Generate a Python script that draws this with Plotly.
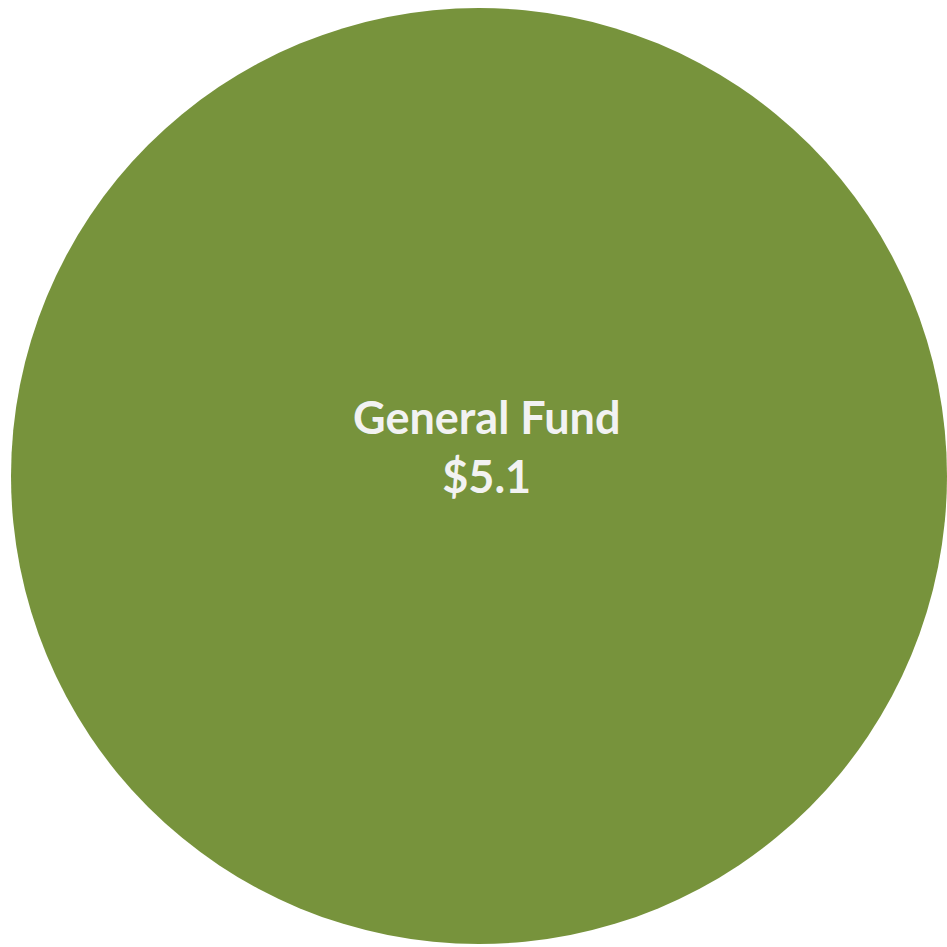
import plotly.graph_objects as go

# Fund breakdown (billions of dollars)
labels = ["General Fund"]
values = [5.1]
colors = ["#77933C"]

fig = go.Figure()
fig.add_trace(go.Pie(
    labels=labels,
    values=values,
    marker=dict(colors=colors, line=dict(width=0)),
    textinfo="none",
    hoverinfo="label+value",
    sort=False,
    showlegend=False,
    domain=dict(x=[11 / 947, 1.0], y=[1 / 947, 1 - 6 / 947]),
))

label_text = "<br>".join(f"{l}<br>${v:.1f}" for l, v in zip(labels, values))
fig.add_annotation(
    text=label_text,
    x=487 / 947, y=1 - 446 / 947,
    xref="paper", yref="paper",
    xanchor="center", yanchor="middle",
    showarrow=False,
    font=dict(family="Lato", size=45, color="#F2F2F2", weight="bold"),
)

fig.update_layout(
    width=947, height=947,
    margin=dict(l=0, r=0, t=0, b=0),
    paper_bgcolor="white",
    plot_bgcolor="white",
)

fig.write_html("out.html")
